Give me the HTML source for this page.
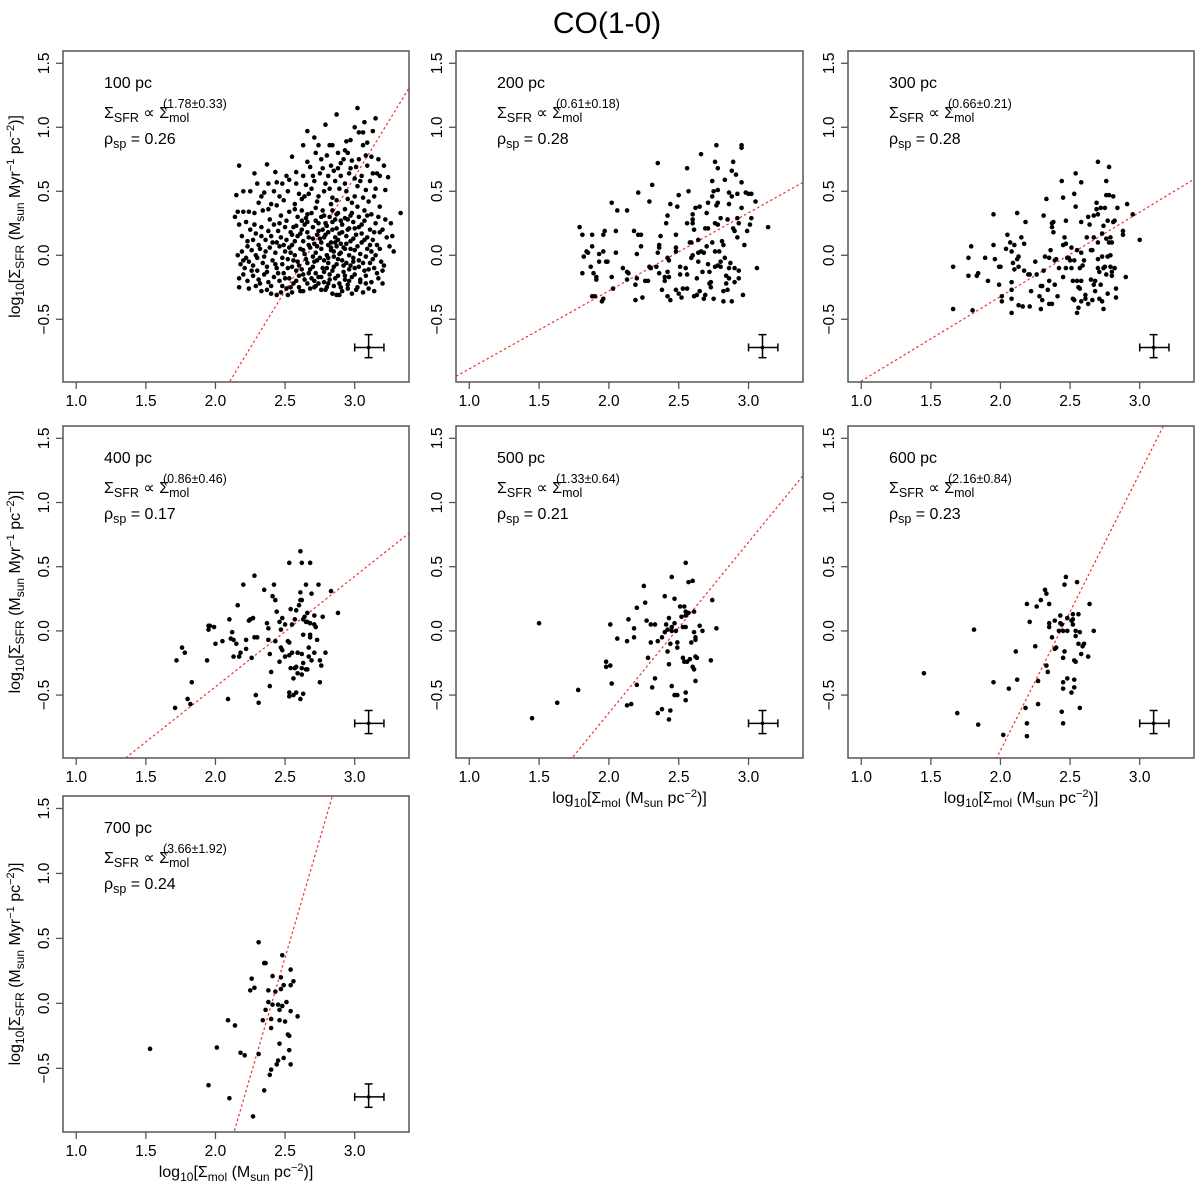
<!DOCTYPE html>
<html><head><meta charset="utf-8"><style>
html,body{margin:0;padding:0;background:#fff;width:1200px;height:1186px;overflow:hidden;}
svg{display:block;font-family:"Liberation Sans",sans-serif;}
</style></head><body>
<svg id="fig" width="1200" height="1186" viewBox="0 0 1200 1186" xmlns="http://www.w3.org/2000/svg">
<text x="607" y="33" font-size="30" text-anchor="middle">CO(1-0)</text>
</svg>
<script>
const scales = ["100 pc","200 pc","300 pc","400 pc","500 pc","600 pc","700 pc"];
const exponents = ["(1.78±0.33)","(0.61±0.18)","(0.66±0.21)","(0.86±0.46)","(1.33±0.64)","(2.16±0.84)","(3.66±1.92)"];
const rhos = ["0.26","0.28","0.28","0.17","0.21","0.23","0.24"];
const fitSlopes = [1.78,0.61,0.66,0.86,1.33,2.16,3.66];
const fitIntercepts = [-4.728,-1.498,-1.643,-2.155,-3.299,-5.251,-8.798];
const xTicks = [1.0,1.5,2.0,2.5,3.0];
const xTickLabels = ["1.0","1.5","2.0","2.5","3.0"];
const yTicks = [-0.5,0.0,0.5,1.0,1.5];
const yTickLabels = ["−0.5","0.0","0.5","1.0","1.5"];
const errCenter = [3.1,-0.72];
const errX = [3.0,3.21];
const errY = [-0.80,-0.62];

const pts100 = [[2.87,1.10],[3.02,1.15],[2.79,1.02],[3.15,1.07],[3.07,1.04],[3.13,0.97],[2.66,0.97],[3.0,1.0],[3.03,0.96],[3.06,0.96],[2.94,0.89],[2.71,0.92],[2.63,0.86],[2.84,0.86],[2.93,0.82],[3.06,0.86],[2.82,0.86],[2.95,0.80],
[2.17,0.70],[2.37,0.71],[2.28,0.64],[2.43,0.65],[2.55,0.77],[2.66,0.73],[2.68,0.69],[2.72,0.80],[2.76,0.75],[2.80,0.78],[2.83,0.70],[2.88,0.68],[2.92,0.75],[2.98,0.74],[3.03,0.75],[3.09,0.70],[3.12,0.77],[3.17,0.75],[3.21,0.70],[3.24,0.61],[3.18,0.62],[3.13,0.64],[3.05,0.62],[3.0,0.60],[2.96,0.64],[2.90,0.62],[2.86,0.58],[2.81,0.62],[2.75,0.64],[2.70,0.62],[2.65,0.55],[2.58,0.65],[2.53,0.59],[2.48,0.56],[2.44,0.57],[2.38,0.56],[2.30,0.56],[2.25,0.50],[2.20,0.50],[2.35,0.49],[2.42,0.50],[2.52,0.50],[2.60,0.48],[2.64,0.46],[2.69,0.52],[2.78,0.50],[2.84,0.45],[2.89,0.52],[2.94,0.50],[3.02,0.54],[3.08,0.51],[3.15,0.52],[3.22,0.51],[2.57,0.40],[2.49,0.43],[2.62,0.44],[2.73,0.42],[2.83,0.40],[2.98,0.41],[3.10,0.42],[3.18,0.38],
[2.14,0.30],[2.16,0.34],[2.15,0.47],[2.20,0.34],[2.24,0.34],[2.28,0.33],[2.31,0.41],[2.34,0.35],[2.38,0.36],[2.44,0.39],[2.53,0.34],[2.57,0.36],[2.62,0.35],[2.66,0.32],[2.72,0.37],[2.78,0.31],[2.84,0.35],[2.88,0.33],[2.93,0.36],[2.97,0.31],[3.02,0.38],[3.07,0.35],[3.12,0.32],[3.17,0.30],[3.22,0.28],[3.26,0.25],[3.33,0.33],[3.20,0.20],[3.23,0.14],[3.27,0.15],[3.28,0.03],[3.25,0.07],
[2.17,0.24],[2.22,0.26],[2.25,0.20],[2.29,0.17],[2.33,0.22],[2.38,0.19],[2.42,0.24],[2.46,0.25],[2.50,0.22],[2.54,0.18],[2.58,0.23],[2.62,0.20],[2.66,0.26],[2.70,0.22],[2.74,0.25],[2.77,0.20],[2.80,0.23],[2.84,0.26],[2.87,0.21],[2.91,0.24],[2.95,0.20],[2.99,0.26],[3.03,0.22],[3.07,0.27],[3.11,0.20],[3.15,0.25],[3.18,0.18],
[2.19,0.15],[2.23,0.11],[2.27,0.12],[2.31,0.08],[2.36,0.12],[2.40,0.15],[2.44,0.10],[2.47,0.14],[2.51,0.12],[2.55,0.08],[2.59,0.15],[2.63,0.11],[2.67,0.14],[2.71,0.09],[2.75,0.13],[2.79,0.16],[2.83,0.10],[2.86,0.14],[2.90,0.09],[2.94,0.15],[2.97,0.11],[3.01,0.16],[3.05,0.10],[3.09,0.14],[3.13,0.12],[3.16,0.08],
[2.16,0.00],[2.19,0.03],[2.22,-0.02],[2.26,0.04],[2.29,0.00],[2.32,0.05],[2.35,-0.01],[2.39,0.06],[2.43,0.02],[2.46,0.07],[2.50,0.03],[2.53,0.06],[2.57,0.00],[2.61,0.05],[2.64,0.01],[2.68,0.06],[2.72,0.02],[2.76,0.05],[2.80,0.00],[2.83,0.04],[2.87,0.07],[2.90,0.02],[2.93,0.05],[2.96,0.00],[3.00,0.04],[3.04,0.01],[3.08,-0.01],[3.12,0.03],[3.15,0.00],[3.19,-0.05],
[2.18,-0.07],[2.21,-0.10],[2.24,-0.05],[2.27,-0.08],[2.30,-0.12],[2.34,-0.06],[2.37,-0.09],[2.41,-0.04],[2.44,-0.10],[2.48,-0.07],[2.52,-0.03],[2.55,-0.09],[2.59,-0.05],[2.62,-0.11],[2.66,-0.06],[2.70,-0.09],[2.73,-0.04],[2.77,-0.10],[2.81,-0.06],[2.85,-0.09],[2.88,-0.03],[2.92,-0.08],[2.96,-0.11],[2.99,-0.05],[3.03,-0.09],[3.07,-0.12],[3.11,-0.06],[3.14,-0.10],[3.20,-0.12],
[2.17,-0.18],[2.20,-0.15],[2.23,-0.20],[2.27,-0.16],[2.31,-0.19],[2.35,-0.15],[2.38,-0.21],[2.42,-0.17],[2.46,-0.20],[2.49,-0.14],[2.53,-0.18],[2.56,-0.22],[2.60,-0.16],[2.64,-0.19],[2.67,-0.14],[2.71,-0.20],[2.74,-0.17],[2.78,-0.21],[2.82,-0.15],[2.86,-0.18],[2.89,-0.22],[2.93,-0.16],[2.96,-0.20],[3.00,-0.15],[3.04,-0.19],[3.08,-0.16],[3.12,-0.21],[3.17,-0.18],[3.20,-0.22],
[2.17,-0.25],[2.24,-0.26],[2.29,-0.24],[2.33,-0.28],[2.37,-0.27],[2.40,-0.30],[2.44,-0.31],[2.47,-0.29],[2.51,-0.26],[2.55,-0.29],[2.60,-0.25],[2.63,-0.28],[2.68,-0.26],[2.72,-0.24],[2.76,-0.27],[2.80,-0.25],[2.84,-0.30],[2.87,-0.31],[2.91,-0.28],[2.95,-0.26],[2.98,-0.30],[3.02,-0.25],[3.06,-0.29],[3.10,-0.26],[3.14,-0.28],[2.52,-0.31],[2.89,-0.31],
[2.65,0.29],[2.73,0.16],[2.81,0.08],[2.85,-0.01],[2.89,0.17],[2.92,-0.13],[2.78,-0.13],[2.70,-0.01],[2.95,0.28],[2.76,0.30],[2.58,-0.12],[2.62,0.27],[2.86,0.28],[2.99,-0.02],[2.71,-0.25],[2.81,-0.22],[2.55,0.16],[2.48,-0.24],[3.05,0.17],[3.09,0.05],
[2.20,-0.04],[2.23,0.07],[2.26,-0.12],[2.28,0.24],[2.30,-0.02],[2.32,-0.22],[2.33,0.15],[2.36,0.03],[2.37,-0.13],[2.39,0.28],[2.40,-0.24],[2.41,0.10],[2.43,-0.07],[2.45,0.19],[2.45,-0.14],[2.47,0.31],[2.48,-0.02],[2.49,0.08],[2.50,-0.18],[2.51,0.27],[2.52,-0.10],[2.54,0.02],[2.54,-0.25],[2.56,0.22],[2.56,-0.04],[2.57,0.11],[2.58,-0.20],[2.59,0.30],[2.60,-0.08],[2.61,0.17],[2.61,-0.28],[2.63,0.04],[2.63,-0.15],[2.64,0.24],[2.65,-0.03],[2.66,0.18],[2.66,-0.22],[2.67,0.08],[2.68,-0.11],[2.69,0.33],[2.69,-0.18],[2.70,0.13],[2.71,-0.05],[2.72,0.27],[2.72,-0.14],[2.73,0.07],[2.74,-0.22],[2.74,0.19],[2.75,-0.02],[2.76,0.10],[2.76,-0.17],[2.77,0.35],[2.78,-0.04],[2.78,0.14],[2.79,-0.27],[2.79,0.25],[2.80,-0.10],[2.81,0.18],[2.81,-0.02],[2.82,0.30],[2.82,-0.19],[2.83,0.06],[2.84,-0.12],[2.84,0.20],[2.85,0.03],[2.85,-0.24],[2.86,0.10],[2.87,-0.07],[2.87,0.32],[2.88,-0.16],[2.88,0.12],[2.89,0.01],[2.90,-0.25],[2.90,0.27],[2.91,-0.04],[2.91,0.18],[2.92,0.06],[2.93,-0.19],[2.93,0.29],[2.94,-0.06],[2.94,0.09],[2.95,-0.23],[2.96,0.21],[2.97,-0.08],[2.97,0.05],[2.98,0.33],[2.98,-0.17],[2.99,0.13],[3.00,-0.10],[3.00,0.21],[3.01,-0.27],[3.02,0.07],[3.03,-0.04],[3.03,0.30],[3.04,-0.21],[3.05,0.24],[3.06,-0.06],[3.07,0.12],[3.08,-0.22],[3.09,0.31],[3.10,-0.11],[3.11,0.08],[3.13,-0.03],[3.14,0.18],[3.16,-0.14],[3.18,0.05],[3.21,-0.08],
[2.58,0.56],[2.63,0.62],[2.67,0.48],[2.71,0.58],[2.74,0.46],[2.77,0.68],[2.79,0.56],[2.82,0.52],[2.85,0.66],[2.87,0.43],[2.90,0.72],[2.93,0.56],[2.95,0.44],[2.97,0.68],[3.00,0.46],[3.01,0.69],[3.04,0.58],[3.06,0.45],[3.08,0.78],[3.11,0.58],[3.14,0.46],[3.16,0.64],[2.97,0.90],[2.88,0.80],[2.74,0.86],[3.09,0.88],[2.46,0.46],[2.40,0.40],[2.33,0.46],[2.51,0.62]];

const pts200 = [[1.79,0.22],[1.81,0.16],[1.82,-0.01],[1.84,0.03],[1.85,0.02],[1.81,-0.14],[1.87,-0.09],[1.88,0.16],[1.88,0.07],[1.89,-0.14],[1.91,-0.17],[1.91,-0.19],[1.88,-0.32],[1.90,-0.32],[1.95,-0.36],[1.96,-0.34],[1.96,0.03],[1.93,0.01],[1.93,-0.05],[1.96,0.16],[1.97,0.19],[1.98,-0.05],[1.99,-0.05],[2.02,0.41],[2.02,-0.17],[2.05,0.19],[2.05,0.02],[2.06,0.35],[2.03,-0.26],[2.13,0.35],[2.10,-0.10],[2.13,-0.13],[2.14,-0.14],[2.13,-0.19],[2.18,0.19],[2.19,-0.23],[2.19,-0.35],[2.20,0.01],[2.21,0.49],[2.21,0.16],[2.23,0.16],[2.20,-0.18],[2.23,0.07],[2.24,-0.33],[2.26,-0.20],[2.28,-0.20],[2.29,-0.09],[2.29,0.42],[2.30,-0.10],[2.31,0.55],[2.34,-0.09],[2.35,0.72],[2.35,0.02],[2.36,0.08],[2.36,0.06],[2.37,0.15],[2.36,-0.14],[2.38,-0.27],[2.40,-0.17],[2.40,-0.20],[2.41,0.25],[2.42,0.31],[2.42,-0.13],[2.42,-0.02],[2.42,-0.32],[2.43,-0.04],[2.44,0.40],[2.44,-0.35],[2.43,-0.17],[2.48,0.16],[2.48,0.03],[2.48,0.06],[2.48,-0.27],[2.50,-0.30],[2.49,0.38],[2.50,0.47],[2.51,-0.15],[2.52,-0.33],[2.51,-0.09],[2.53,-0.26],[2.55,-0.10],[2.56,-0.26],[2.56,0.25],[2.56,0.68],[2.57,0.50],[2.56,-0.15],[2.58,0.10],[2.59,0.10],[2.60,0.32],[2.60,0.28],[2.60,0.25],[2.59,-0.02],[2.61,0.20],[2.60,0.00],[2.62,0.37],[2.61,-0.32],[2.63,-0.31],[2.63,-0.18],[2.64,0.12],[2.64,0.02],[2.65,0.38],[2.66,0.79],[2.65,-0.28],[2.66,0.03],[2.67,-0.13],[2.68,-0.34],[2.69,0.21],[2.69,-0.31],[2.70,0.07],[2.70,0.33],[2.71,0.41],[2.71,0.21],[2.71,-0.07],[2.72,-0.13],[2.73,-0.21],[2.73,-0.25],[2.74,0.58],[2.74,0.46],[2.74,0.10],[2.75,0.50],[2.75,-0.34],[2.76,0.03],[2.76,0.73],[2.76,0.25],[2.76,-0.09],[2.77,0.86],[2.77,0.39],[2.78,0.68],[2.78,0.51],[2.78,0.24],[2.78,0.41],[2.79,0.03],[2.80,-0.05],[2.80,0.29],[2.80,-0.09],[2.81,0.11],[2.82,-0.28],[2.82,-0.36],[2.82,0.08],[2.83,0.59],[2.84,-0.16],[2.84,-0.22],[2.85,-0.27],[2.85,0.28],[2.86,0.40],[2.86,-0.18],[2.86,0.49],[2.87,-0.06],[2.88,0.66],[2.88,-0.36],[2.88,0.46],[2.89,0.73],[2.89,0.21],[2.90,-0.10],[2.90,-0.21],[2.90,0.19],[2.91,0.63],[2.92,0.14],[2.92,0.29],[2.92,0.48],[2.93,-0.12],[2.93,-0.18],[2.93,0.25],[2.95,0.86],[2.95,0.57],[2.95,0.37],[2.96,-0.31],[2.97,0.08],[2.98,0.49],[2.99,0.19],[3.00,0.48],[3.01,0.24],[3.02,0.48],[3.02,0.29],[3.05,0.42],[3.06,-0.10],[3.14,0.22],[2.95,0.84],[2.72,-0.22],[2.64,-0.05],[2.68,0.02],[2.83,-0.02],[2.86,-0.10],[2.78,-0.08]];

const pts300 = [[1.66,-0.09],[1.66,-0.42],[1.77,-0.02],[1.77,-0.16],[1.79,0.07],[1.80,-0.43],[1.83,-0.16],[1.84,-0.14],[1.89,-0.02],[1.91,-0.20],[1.95,0.08],[1.95,0.32],[1.96,-0.03],[1.99,-0.23],[1.99,-0.09],[2.00,-0.09],[2.01,-0.32],[2.01,-0.36],[2.04,0.05],[2.05,0.16],[2.07,0.10],[2.08,0.03],[2.08,-0.27],[2.08,-0.34],[2.08,-0.45],[2.08,-0.21],[2.09,-0.06],[2.10,-0.11],[2.10,0.08],[2.12,0.33],[2.12,-0.03],[2.13,-0.09],[2.13,-0.39],[2.13,-0.01],[2.15,0.14],[2.16,-0.40],[2.17,-0.12],[2.17,0.09],[2.18,0.26],[2.20,-0.15],[2.21,-0.40],[2.21,-0.15],[2.22,-0.28],[2.25,-0.05],[2.26,-0.15],[2.28,-0.32],[2.29,-0.24],[2.29,-0.42],[2.30,-0.24],[2.30,-0.35],[2.31,0.31],[2.31,-0.12],[2.32,-0.01],[2.33,0.44],[2.34,-0.27],[2.35,-0.20],[2.35,-0.02],[2.35,-0.38],[2.36,0.04],[2.37,-0.38],[2.37,0.25],[2.37,0.22],[2.38,0.18],[2.38,0.26],[2.39,-0.04],[2.39,-0.23],[2.40,-0.03],[2.41,-0.32],[2.42,-0.10],[2.44,0.58],[2.45,0.08],[2.45,-0.17],[2.45,0.45],[2.46,0.14],[2.47,0.27],[2.47,0.09],[2.47,-0.10],[2.48,-0.02],[2.49,-0.02],[2.50,-0.04],[2.51,-0.10],[2.51,0.06],[2.52,-0.20],[2.52,-0.34],[2.53,-0.04],[2.53,0.48],[2.53,-0.35],[2.54,0.64],[2.54,0.38],[2.55,-0.45],[2.55,0.04],[2.55,-0.20],[2.56,-0.25],[2.56,-0.41],[2.57,-0.10],[2.57,-0.26],[2.58,0.57],[2.58,0.26],[2.58,-0.20],[2.58,-0.36],[2.58,0.02],[2.59,-0.08],[2.60,-0.04],[2.61,-0.34],[2.61,-0.31],[2.62,0.14],[2.63,0.30],[2.63,-0.38],[2.64,0.24],[2.65,0.04],[2.65,-0.19],[2.66,-0.35],[2.66,0.04],[2.67,0.31],[2.67,0.14],[2.67,-0.23],[2.68,-0.28],[2.68,-0.20],[2.69,0.36],[2.69,0.41],[2.70,0.32],[2.70,0.73],[2.70,0.10],[2.70,-0.03],[2.70,-0.10],[2.71,-0.13],[2.71,-0.34],[2.72,-0.23],[2.72,0.37],[2.73,-0.36],[2.73,0.17],[2.73,-0.01],[2.74,0.23],[2.74,-0.10],[2.74,-0.42],[2.75,-0.09],[2.75,0.37],[2.76,-0.15],[2.76,0.13],[2.76,0.58],[2.76,0.47],[2.77,-0.01],[2.77,-0.30],[2.77,0.27],[2.78,0.10],[2.78,0.69],[2.78,0.47],[2.79,0.00],[2.79,0.14],[2.79,-0.09],[2.80,-0.13],[2.80,0.10],[2.80,-0.16],[2.81,0.46],[2.81,0.26],[2.82,-0.10],[2.82,0.27],[2.83,-0.33],[2.83,-0.26],[2.84,0.37],[2.88,0.19],[2.88,0.16],[2.90,-0.17],[2.91,0.40],[2.95,0.32],[3.00,0.12]];

const pts400 = [[1.71,-0.60],[1.72,-0.23],[1.76,-0.13],[1.78,-0.17],[1.80,-0.53],[1.82,-0.57],[1.83,-0.40],[1.94,-0.23],[1.95,0.04],[1.95,0.01],[1.96,0.04],[1.99,0.03],[2.00,-0.10],[2.05,-0.08],[2.09,-0.53],[2.10,0.09],[2.11,-0.06],[2.12,-0.01],[2.13,-0.07],[2.13,-0.20],[2.15,-0.10],[2.16,0.20],[2.17,-0.20],[2.18,-0.17],[2.20,0.36],[2.22,-0.07],[2.22,-0.14],[2.24,0.08],[2.25,0.09],[2.26,-0.21],[2.27,0.10],[2.28,0.43],[2.28,-0.05],[2.29,-0.50],[2.30,-0.05],[2.31,-0.56],[2.35,0.32],[2.37,0.06],[2.38,0.02],[2.38,-0.07],[2.39,-0.18],[2.39,-0.43],[2.40,-0.32],[2.41,0.27],[2.42,0.36],[2.43,0.24],[2.43,-0.08],[2.44,0.15],[2.46,-0.24],[2.46,0.07],[2.47,0.01],[2.47,-0.13],[2.48,-0.15],[2.48,0.10],[2.50,-0.20],[2.50,0.05],[2.52,-0.08],[2.53,-0.48],[2.53,-0.09],[2.53,0.53],[2.53,-0.51],[2.53,-0.19],[2.54,-0.29],[2.54,0.17],[2.55,-0.17],[2.55,0.05],[2.56,-0.37],[2.56,-0.50],[2.57,0.09],[2.57,-0.29],[2.58,0.16],[2.58,-0.48],[2.58,-0.28],[2.59,-0.17],[2.59,-0.33],[2.60,0.20],[2.61,-0.53],[2.61,0.30],[2.61,0.62],[2.61,0.24],[2.62,-0.29],[2.62,0.53],[2.62,-0.18],[2.62,-0.34],[2.62,0.24],[2.63,-0.49],[2.63,-0.25],[2.63,0.09],[2.63,-0.03],[2.64,0.11],[2.65,0.07],[2.65,-0.30],[2.65,0.36],[2.66,0.14],[2.66,0.07],[2.66,-0.30],[2.67,-0.20],[2.67,-0.13],[2.68,0.53],[2.68,0.06],[2.68,-0.05],[2.68,-0.03],[2.69,-0.23],[2.69,0.29],[2.71,0.05],[2.71,-0.17],[2.71,0.12],[2.72,0.03],[2.73,-0.07],[2.74,0.36],[2.75,-0.23],[2.75,-0.40],[2.76,-0.27],[2.77,0.11],[2.79,-0.17],[2.83,0.31],[2.88,0.14]];

const pts500 = [[1.45,-0.68],[1.50,0.06],[1.63,-0.56],[1.78,-0.46],[1.98,-0.24],[1.98,-0.28],[2.01,-0.27],[2.01,0.05],[2.02,-0.41],[2.06,-0.06],[2.13,-0.08],[2.13,-0.58],[2.14,0.09],[2.16,-0.57],[2.18,0.02],[2.18,-0.05],[2.20,0.18],[2.20,-0.42],[2.25,0.35],[2.26,0.22],[2.27,0.08],[2.28,-0.21],[2.30,-0.09],[2.30,0.05],[2.31,-0.44],[2.33,0.05],[2.33,-0.37],[2.35,-0.64],[2.35,-0.08],[2.38,-0.61],[2.38,-0.05],[2.40,0.27],[2.40,-0.01],[2.41,0.05],[2.42,-0.16],[2.42,0.01],[2.43,0.10],[2.43,-0.26],[2.43,-0.69],[2.44,-0.62],[2.44,-0.10],[2.45,0.42],[2.45,0.03],[2.45,-0.43],[2.45,0.00],[2.47,0.06],[2.47,0.25],[2.47,-0.50],[2.48,0.00],[2.49,-0.09],[2.49,-0.13],[2.49,-0.50],[2.51,0.19],[2.52,0.11],[2.53,-0.21],[2.53,0.03],[2.54,0.19],[2.54,-0.24],[2.55,-0.48],[2.55,-0.54],[2.55,0.15],[2.55,0.03],[2.55,0.53],[2.55,0.12],[2.56,-0.24],[2.57,0.14],[2.57,0.38],[2.58,-0.22],[2.59,-0.09],[2.60,0.39],[2.60,-0.28],[2.61,0.15],[2.61,-0.01],[2.61,-0.30],[2.62,-0.39],[2.62,-0.07],[2.62,-0.05],[2.62,-0.20],[2.63,-0.21],[2.65,0.04],[2.67,0.00],[2.73,-0.23],[2.74,0.24],[2.77,0.02]];

const pts600 = [[1.45,-0.33],[1.69,-0.64],[1.81,0.01],[1.84,-0.73],[1.95,-0.40],[2.02,-0.81],[2.06,-0.45],[2.11,-0.16],[2.12,-0.38],[2.18,-0.60],[2.19,0.21],[2.19,-0.72],[2.19,-0.82],[2.21,0.07],[2.25,-0.12],[2.26,0.19],[2.27,-0.39],[2.27,-0.57],[2.29,0.24],[2.32,0.32],[2.33,-0.27],[2.33,0.29],[2.34,-0.32],[2.35,0.21],[2.35,0.06],[2.35,0.03],[2.37,-0.05],[2.39,0.08],[2.39,-0.14],[2.40,-0.13],[2.42,0.00],[2.43,0.12],[2.43,0.06],[2.44,-0.63],[2.44,0.05],[2.45,-0.21],[2.45,-0.40],[2.45,-0.45],[2.45,0.00],[2.45,-0.72],[2.46,0.36],[2.46,-0.16],[2.47,0.42],[2.48,0.10],[2.48,-0.37],[2.48,0.00],[2.51,-0.48],[2.51,0.08],[2.52,0.13],[2.52,0.09],[2.52,0.05],[2.53,-0.23],[2.53,-0.44],[2.53,-0.38],[2.54,-0.24],[2.54,0.00],[2.54,-0.04],[2.55,0.38],[2.56,0.13],[2.56,-0.10],[2.57,-0.60],[2.57,-0.01],[2.58,-0.18],[2.59,-0.12],[2.60,-0.10],[2.63,-0.20],[2.64,0.21],[2.67,0.00]];

const pts700 = [[1.53,-0.35],[1.95,-0.63],[2.01,-0.34],[2.09,-0.13],[2.10,-0.73],[2.14,-0.17],[2.18,-0.38],[2.21,-0.40],[2.25,0.10],[2.26,0.19],[2.28,0.12],[2.27,-0.87],[2.31,-0.39],[2.31,0.47],[2.34,-0.13],[2.35,-0.67],[2.35,0.31],[2.36,-0.05],[2.36,0.31],[2.38,0.10],[2.38,0.01],[2.39,-0.55],[2.40,-0.12],[2.40,-0.51],[2.40,-0.19],[2.41,-0.01],[2.41,0.21],[2.43,0.09],[2.44,-0.47],[2.45,-0.44],[2.45,-0.01],[2.46,-0.13],[2.46,-0.31],[2.46,-0.05],[2.47,0.20],[2.47,0.11],[2.48,0.37],[2.48,-0.02],[2.49,0.14],[2.49,-0.42],[2.50,-0.14],[2.51,0.01],[2.52,-0.24],[2.53,-0.25],[2.53,-0.36],[2.54,0.14],[2.54,-0.06],[2.54,-0.47],[2.54,0.26],[2.56,0.17],[2.59,-0.10]];

const allPoints = [pts100,pts200,pts300,pts400,pts500,pts600,pts700];

const NS = "http://www.w3.org/2000/svg";
const svg = document.getElementById('fig');
const cols = [[63,409],[456,803],[848,1194]];
const rows = [[51,382],[426,758],[796,1132]];
const XMIN = 0.905, XMAX = 3.39, YMIN = -0.99, YMAX = 1.596;

function mk(tag, attrs, parent){
  const e = document.createElementNS(NS, tag);
  for (const k in attrs) e.setAttribute(k, attrs[k]);
  (parent||svg).appendChild(e);
  return e;
}
function tsp(parent, txt, attrs){
  const t = document.createElementNS(NS,'tspan');
  for (const k in attrs) t.setAttribute(k, attrs[k]);
  t.textContent = txt; parent.appendChild(t); return t;
}

for (let i=0;i<7;i++){
  const c = cols[i%3], r = rows[Math.floor(i/3)];
  const L=c[0], R=c[1], T=r[0], B=r[1];
  const sx = v => L + (v-XMIN)/(XMAX-XMIN)*(R-L);
  const sy = v => T + (YMAX-v)/(YMAX-YMIN)*(B-T);
  const g = mk('g',{});
  
  

  const clipId = 'clip'+i;
  const cp = mk('clipPath',{id:clipId}, g);
  mk('rect',{x:L,y:T,width:R-L,height:B-T}, cp);

  const fit = mk('line',{x1:sx(XMIN),y1:sy(fitSlopes[i]*XMIN+fitIntercepts[i]),x2:sx(XMAX),y2:sy(fitSlopes[i]*XMAX+fitIntercepts[i]),stroke:'#f03030','stroke-width':1.2,'stroke-dasharray':'2.5,2.5','clip-path':'url(#'+clipId+')'}, g);
  
  

  const pg = mk('g',{fill:'#000'}, g);
  
  
  for (const p of allPoints[i]){
    const d = mk('circle',{cx:sx(p[0]),cy:sy(p[1]),r:2.3}, pg);
    
    
  }

  const eg = mk('g',{stroke:'#000','stroke-width':1.5,fill:'none'}, g);
  
  
  const ex=sx(errCenter[0]), ey=sy(errCenter[1]);
  mk('line',{x1:sx(errX[0]),y1:ey,x2:sx(errX[1]),y2:ey}, eg);
  mk('line',{x1:sx(errX[0]),y1:ey-4,x2:sx(errX[0]),y2:ey+4}, eg);
  mk('line',{x1:sx(errX[1]),y1:ey-4,x2:sx(errX[1]),y2:ey+4}, eg);
  mk('line',{x1:ex,y1:sy(errY[0]),x2:ex,y2:sy(errY[1])}, eg);
  mk('line',{x1:ex-4,y1:sy(errY[0]),x2:ex+4,y2:sy(errY[0])}, eg);
  mk('line',{x1:ex-4,y1:sy(errY[1]),x2:ex+4,y2:sy(errY[1])}, eg);
  mk('circle',{cx:ex,cy:ey,r:1.8,fill:'#000',stroke:'none'}, eg);

  const box = mk('rect',{x:L,y:T,width:R-L,height:B-T,fill:'none',stroke:'#555','stroke-width':1.5}, g);
  
  

  const xa = mk('g',{}, g);
  
  
  xTicks.forEach((v,k)=>{
    mk('line',{x1:sx(v),y1:B,x2:sx(v),y2:B+7,stroke:'#555','stroke-width':1.3}, xa);
    const t = mk('text',{x:sx(v),y:B+24,'font-size':15.5,'text-anchor':'middle'}, xa);
    t.textContent = xTickLabels[k];
    
    
  });
  const ya = mk('g',{}, g);
  
  
  yTicks.forEach((v,k)=>{
    mk('line',{x1:L,y1:sy(v),x2:L-7,y2:sy(v),stroke:'#555','stroke-width':1.3}, ya);
    const x0 = L-14, y0 = sy(v);
    const t = mk('text',{x:x0,y:y0,'font-size':15.5,'text-anchor':'middle',transform:'rotate(-90 '+x0+' '+y0+')'}, ya);
    t.textContent = yTickLabels[k];
    
    
  });

  const a1 = mk('text',{x:L+41,y:T+37,'font-size':16}, g);
  a1.textContent = scales[i];
  
  

  const a2 = mk('text',{x:L+41,y:T+67,'font-size':16}, g);
  
  
  tsp(a2,'Σ',{});
  tsp(a2,'SFR',{'font-size':12.5,dy:4});
  tsp(a2,' ∝ Σ',{dy:-4});
  tsp(a2,'mol',{'font-size':12.5,dy:4});
  const sup = mk('text',{x:L+100,y:T+57,'font-size':12.5}, g);
  sup.textContent = exponents[i];
  
  

  const a3 = mk('text',{x:L+41,y:T+93,'font-size':16}, g);
  
  
  tsp(a3,'ρ',{});
  tsp(a3,'sp',{'font-size':12.5,dy:4});
  tsp(a3,' = '+rhos[i],{dy:-4});

  if (i%3===0){
    const cx = 20, cy = (T+B)/2;
    const yt = mk('text',{x:cx,y:cy,'font-size':16,'text-anchor':'middle',transform:'rotate(-90 '+cx+' '+cy+')'}, g);
    
    
    tsp(yt,'log',{}); tsp(yt,'10',{'font-size':12,dy:4}); tsp(yt,'[Σ',{dy:-4});
    tsp(yt,'SFR',{'font-size':12,dy:4}); tsp(yt,' (M',{dy:-4}); tsp(yt,'sun',{'font-size':12,dy:4});
    tsp(yt,' Myr',{dy:-4}); tsp(yt,'−1',{'font-size':11,dy:-6}); tsp(yt,' pc',{dy:6});
    tsp(yt,'−2',{'font-size':11,dy:-6}); tsp(yt,')]',{dy:6});
  }
  if (i>=4){
    const cx = (L+R)/2, cy = B+45;
    const xt = mk('text',{x:cx,y:cy,'font-size':16,'text-anchor':'middle'}, g);
    
    
    tsp(xt,'log',{}); tsp(xt,'10',{'font-size':12,dy:4}); tsp(xt,'[Σ',{dy:-4});
    tsp(xt,'mol',{'font-size':12,dy:4}); tsp(xt,' (M',{dy:-4}); tsp(xt,'sun',{'font-size':12,dy:4});
    tsp(xt,' pc',{dy:-4}); tsp(xt,'−2',{'font-size':11,dy:-6}); tsp(xt,')]',{dy:6});
  }
}
</script>
</body></html>
